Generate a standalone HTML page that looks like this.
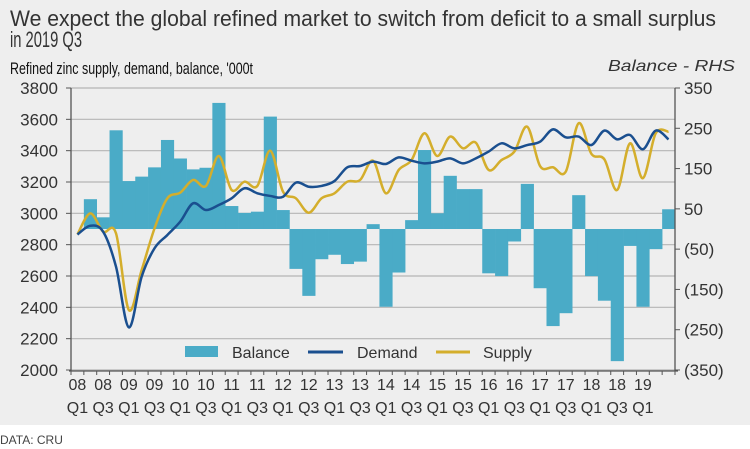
<!DOCTYPE html>
<html><head><meta charset="utf-8"><style>
html,body{margin:0;padding:0;background:#fff}
svg{display:block;font-family:"Liberation Sans",sans-serif}
</style></head><body>
<svg id="c" width="750" height="449" viewBox="0 0 750 449">
<rect x="0" y="0" width="750" height="425" fill="#eeeeee"/>
<text x="10" y="26" font-size="22" fill="#333" textLength="706" lengthAdjust="spacingAndGlyphs">We expect the global refined market to switch from deficit to a small surplus</text>
<text x="10" y="47" font-size="22" fill="#333" textLength="72" lengthAdjust="spacingAndGlyphs">in 2019 Q3</text>
<text x="10" y="74" font-size="17" fill="#111" textLength="243" lengthAdjust="spacingAndGlyphs">Refined zinc supply, demand, balance, '000t</text>
<text x="735" y="71" font-size="16" font-style="italic" fill="#333" text-anchor="end" textLength="127" lengthAdjust="spacingAndGlyphs">Balance - RHS</text>
<g id="grid"></g><g id="bars"></g><g id="lines"></g><g id="axes"></g>
<g>
<rect x="185" y="346" width="33" height="11" fill="#4aabc7"/>
<text x="232" y="358" font-size="16" fill="#333">Balance</text>
<line x1="308" y1="352" x2="343" y2="352" stroke="#1a4f8f" stroke-width="3"/>
<text x="357" y="358" font-size="16" fill="#333">Demand</text>
<line x1="436" y1="352" x2="470" y2="352" stroke="#d4ae2c" stroke-width="3"/>
<text x="483" y="358" font-size="16" fill="#333">Supply</text>
</g>
<text x="0" y="444" font-size="12" fill="#444">DATA: CRU</text>
</svg>
<script>
const years=["08","08","09","09","10","10","11","11","12","12","13","13","14","14","15","15","16","16","17","17","18","18","19"];
const quarters=["Q1","Q3","Q1","Q3","Q1","Q3","Q1","Q3","Q1","Q3","Q1","Q3","Q1","Q3","Q1","Q3","Q1","Q3","Q1","Q3","Q1","Q3","Q1"];
const balance=[0,74,29,245,119,130,153,221,175,148,152,313,57,40,43,279,47,-99,-166,-75,-64,-87,-81,12,-193,-108,22,196,39,132,99,99,-110,-117,-31,112,-147,-241,-209,84,-117,-178,-328,-42,-193,-50,49];
const demand=[2865,2921,2883,2660,2272,2596,2777,2862,2947,3064,3021,3053,3096,3160,3128,3111,3106,3196,3170,3175,3206,3294,3302,3330,3315,3357,3336,3319,3330,3351,3319,3351,3394,3447,3415,3436,3457,3536,3485,3490,3436,3528,3472,3500,3409,3528,3472];
const supply=[2865,3000,2883,2873,2383,2638,2904,3096,3132,3213,3175,3366,3149,3202,3175,3400,3138,3096,3004,3096,3128,3202,3213,3336,3128,3277,3340,3511,3366,3490,3415,3451,3277,3340,3394,3553,3302,3294,3266,3575,3379,3345,3149,3447,3224,3511,3521];
const leftTicks=[3800,3600,3400,3200,3000,2800,2600,2400,2200,2000];
const rightTicks=[350,250,150,50,-50,-150,-250,-350];

const NS="http://www.w3.org/2000/svg";
const X0=71,X1=675,Y0=88,Y1=370,N=balance.length,STEP=(X1-X0)/N;
const yL=v=>Y0+(3800-v)/1800*(Y1-Y0);
const yR=v=>Y0+(350-v)/700*(Y1-Y0);
const xs=i=>X0+STEP*i;
const xc=i=>X0+STEP*(i+0.5);
function mk(tag,attrs,parent){const e=document.createElementNS(NS,tag);for(const k in attrs)e.setAttribute(k,attrs[k]);document.getElementById(parent).appendChild(e);return e;}

leftTicks.forEach(v=>{
  const g=mk('line',{x1:X0,x2:X1,y1:yL(v),y2:yL(v),stroke:'#b4b4b4','stroke-width':1.2},'grid');
  
  
  const t=mk('text',{x:58,y:yL(v)+6,'font-size':17,fill:'#333','text-anchor':'end'},'axes');t.textContent=v;
  
  
  const tk=mk('line',{x1:X0-5,x2:X0,y1:yL(v),y2:yL(v),stroke:'#555'},'axes');
  
  
});
rightTicks.forEach(v=>{
  const t=mk('text',{x:684,y:yR(v)+6,'font-size':17,fill:'#333'},'axes');t.textContent=v<0?'('+(-v)+')':v;
  
  
  const tk=mk('line',{x1:X1,x2:X1+5,y1:yR(v),y2:yR(v),stroke:'#555'},'axes');
  
  
});
balance.forEach((v,i)=>{
  const y=Math.min(yR(v),yR(0)),h=Math.abs(yR(v)-yR(0));
  const r=mk('rect',{x:xs(i),y:y,width:STEP+0.3,height:h,fill:'#4aabc7'},'bars');
  
  
});
function smooth(vals){
  const p=vals.map((v,i)=>[xc(i),yL(v)]);
  let d='M'+p[0][0]+','+p[0][1];
  for(let i=0;i<p.length-1;i++){
    const a=p[Math.max(i-1,0)],b=p[i],c=p[i+1],e=p[Math.min(i+2,p.length-1)];
    d+=' C'+(b[0]+(c[0]-a[0])/6)+','+(b[1]+(c[1]-a[1])/6)+' '+(c[0]-(e[0]-b[0])/6)+','+(c[1]-(e[1]-b[1])/6)+' '+c[0]+','+c[1];
  }
  return d;
}
const ls=mk('path',{d:smooth(supply),fill:'none',stroke:'#d4ae2c','stroke-width':2.5},'lines');


const ld=mk('path',{d:smooth(demand),fill:'none',stroke:'#1a4f8f','stroke-width':2.5},'lines');



const axL=mk('line',{x1:X0,x2:X0,y1:Y0,y2:Y1+1,stroke:'#555','stroke-width':1.3},'axes');


const axR=mk('line',{x1:X1,x2:X1,y1:Y0,y2:Y1+1,stroke:'#555','stroke-width':1.3},'axes');


const axB=mk('line',{x1:X0-2,x2:X1+3,y1:Y1+1,y2:Y1+1,stroke:'#555','stroke-width':1.3},'axes');


for(let i=0;i<=N;i++){
  const tk=mk('line',{x1:xs(i),x2:xs(i),y1:Y1+1,y2:Y1+5,stroke:'#555'},'axes');
  
  
}
years.forEach((yv,k)=>{
  const x=xc(k*2);
  const t1=mk('text',{x:x,y:390,'font-size':16,fill:'#333','text-anchor':'middle'},'axes');t1.textContent=yv;
  
  
  const t2=mk('text',{x:x,y:413,'font-size':16,fill:'#333','text-anchor':'middle'},'axes');t2.textContent=quarters[k];
  
  
});
</script>
</body></html>
